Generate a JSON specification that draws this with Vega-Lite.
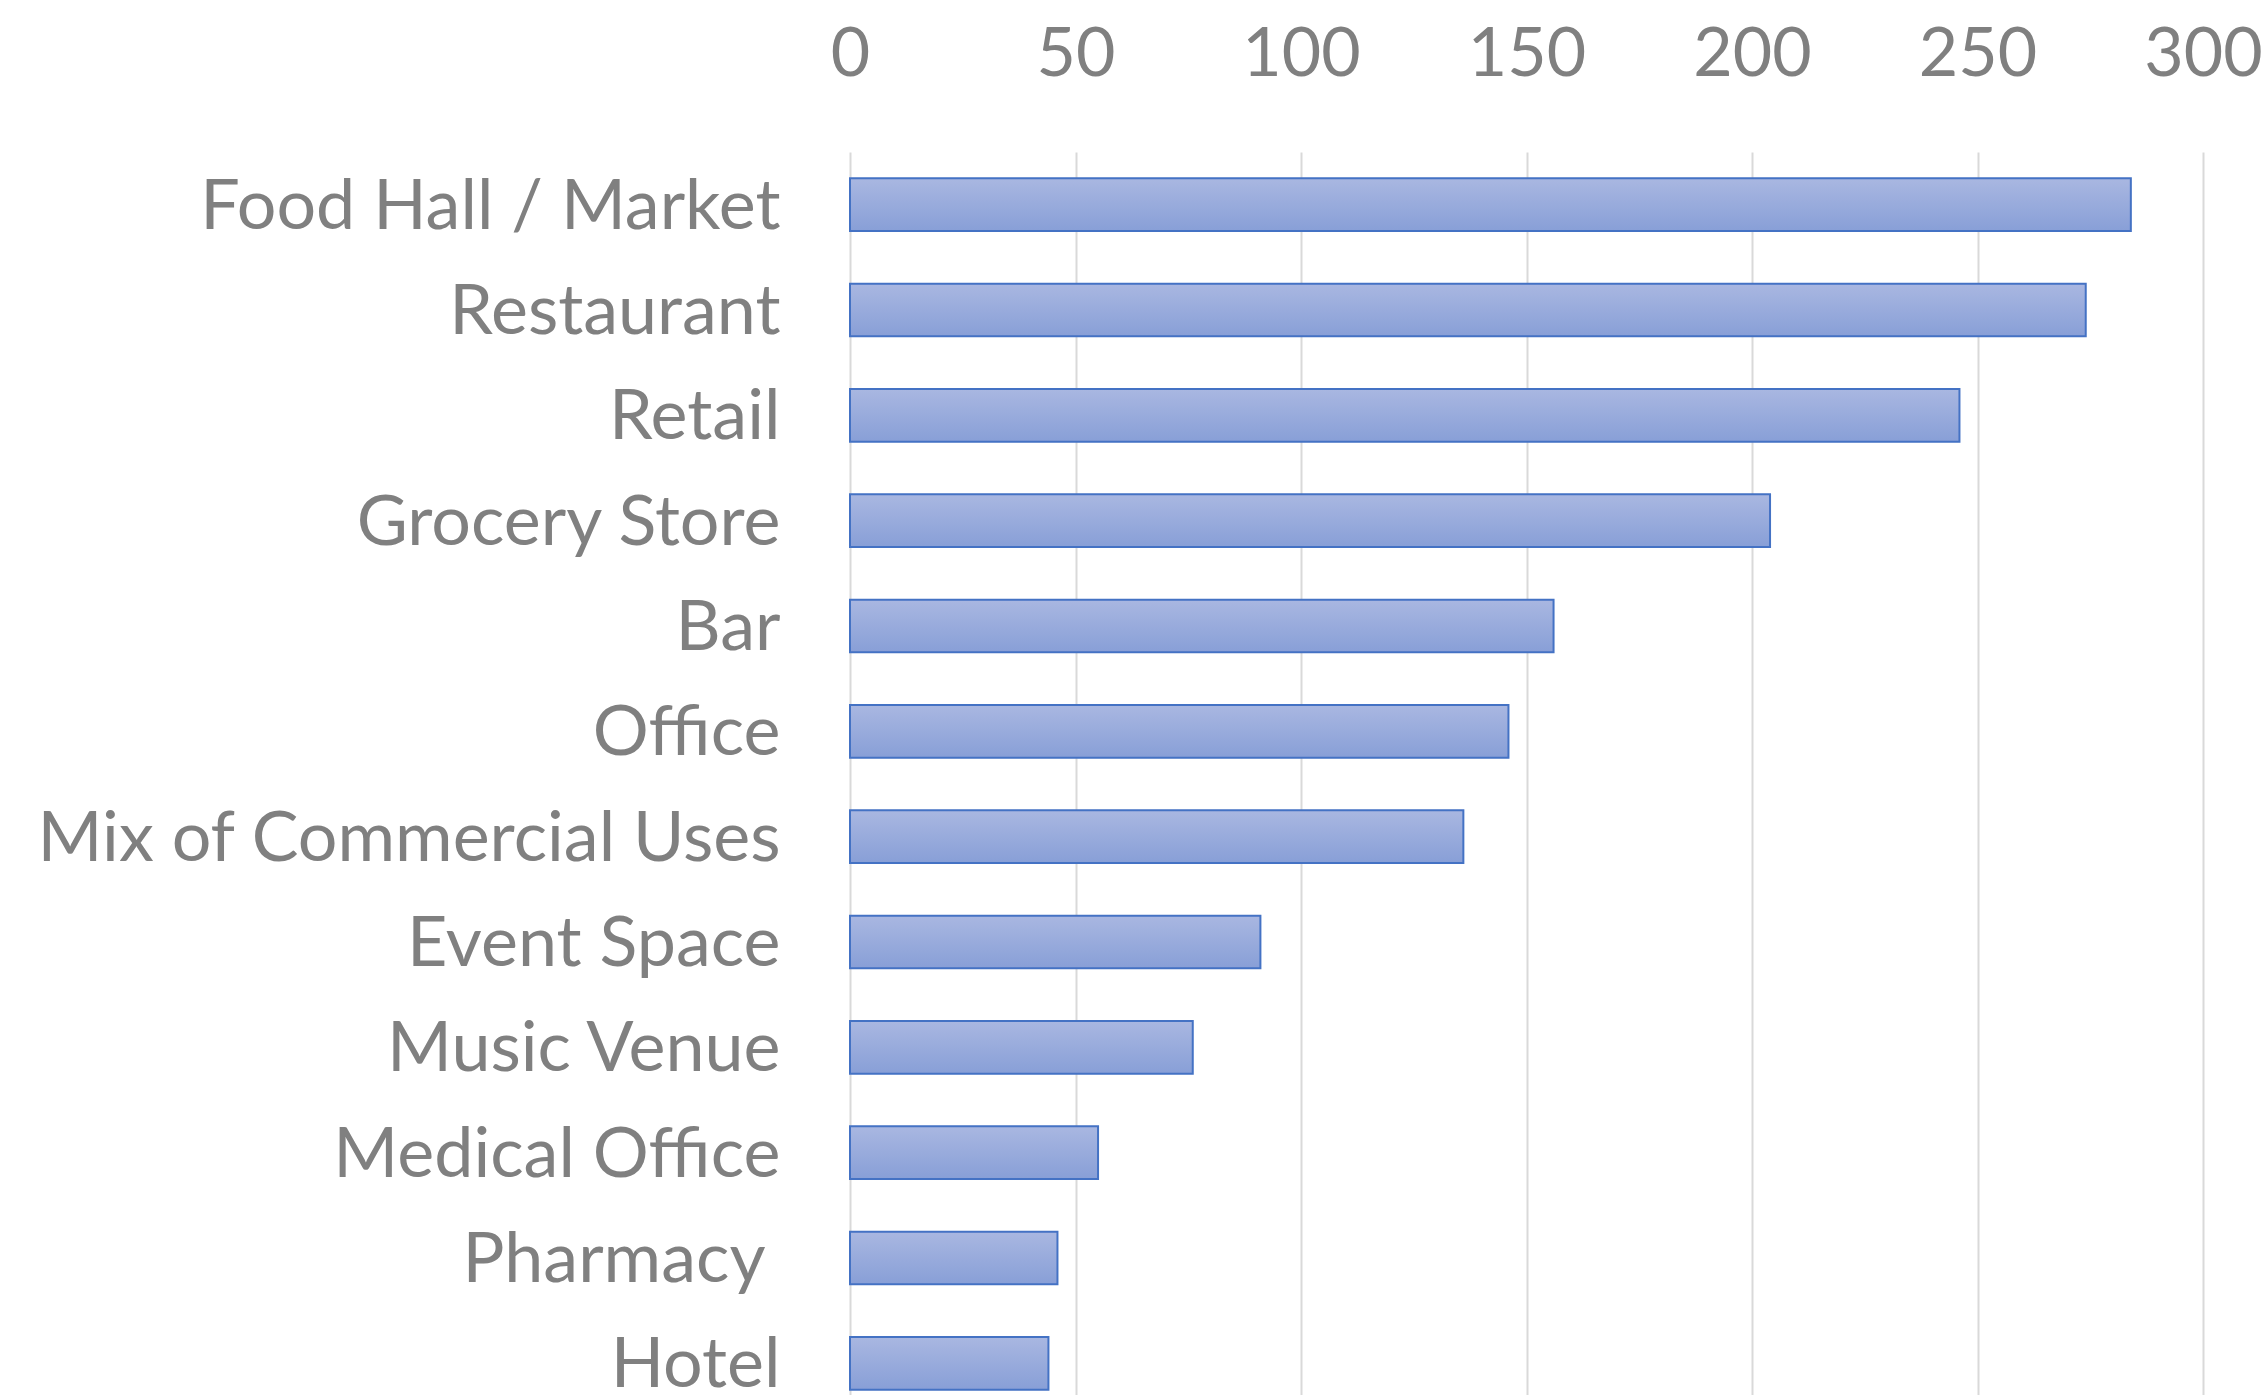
{
  "$schema": "https://vega.github.io/schema/vega-lite/v6.json",
  "autosize": {"type": "none"},
  "padding": {"left": 850, "top": 152, "right": 58, "bottom": 0},
  "width": 1353,
  "height": 1264,
  "background": "white",
  "config": {"view": {"stroke": null}},
  "data": {"values": [
    {"category": "Food Hall / Market", "count": 284},
    {"category": "Restaurant", "count": 274},
    {"category": "Retail", "count": 246},
    {"category": "Grocery Store", "count": 204},
    {"category": "Bar", "count": 156},
    {"category": "Office", "count": 146},
    {"category": "Mix of Commercial Uses", "count": 136},
    {"category": "Event Space", "count": 91},
    {"category": "Music Venue", "count": 76},
    {"category": "Medical Office", "count": 55},
    {"category": "Pharmacy ", "count": 46},
    {"category": "Hotel", "count": 44}
  ]},
  "mark": {
    "type": "bar",
    "color": {"gradient": "linear", "x1": 0, "y1": 0, "x2": 0, "y2": 1, "stops": [
      {"offset": 0, "color": "#a9b7e1"},
      {"offset": 1, "color": "#889fd7"}
    ]},
    "stroke": "#4472c4",
    "strokeWidth": 2
  },
  "encoding": {
    "y": {
      "field": "category", "type": "nominal", "sort": null,
      "scale": {"paddingInner": 0.5, "paddingOuter": 0.25},
      "axis": {"title": null, "domain": false, "ticks": false, "labelFont": "Lato", "labelFontSize": 70, "labelColor": "#808080",
        "labelPadding": {"condition": {"test": "datum.value === 'Pharmacy '", "value": 85}, "value": 70},
        "labelLimit": 1000, "labelOffset": 3}
    },
    "x": {
      "field": "count", "type": "quantitative",
      "scale": {"domain": [0, 300], "nice": false},
      "axis": {"orient": "top", "title": null, "values": [0, 50, 100, 150, 200, 250, 300], "domain": false, "ticks": false, "grid": true, "gridColor": "#d9d9d9", "gridWidth": 2, "labelFont": "Lato", "labelFontSize": 68, "labelColor": "#808080", "labelPadding": 63, "labelFlush": false}
    }
  }
}
